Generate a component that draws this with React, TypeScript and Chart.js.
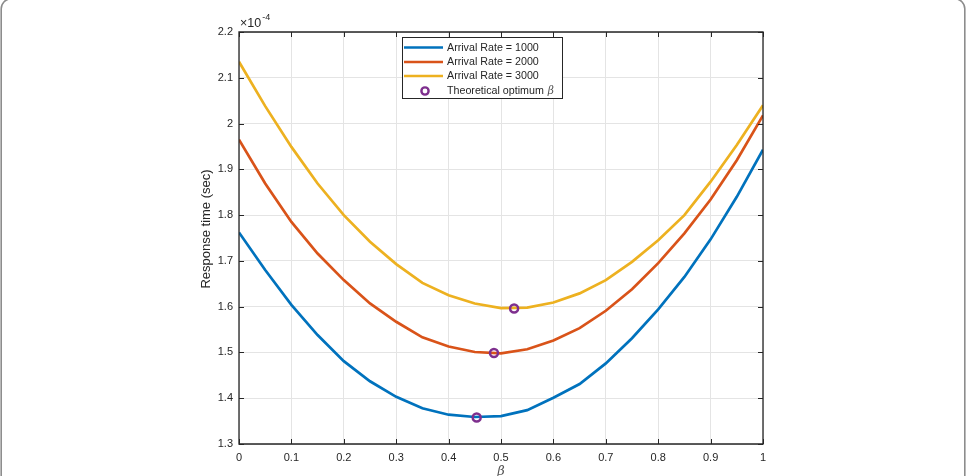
import React, { useEffect, useRef } from "react";
import { Chart, registerables } from "chart.js";

Chart.register(...registerables);

// Sweep of the split parameter beta
const beta = [0, 0.05, 0.1, 0.15, 0.2, 0.25, 0.3, 0.35, 0.4, 0.45, 0.5, 0.55, 0.6, 0.65, 0.7, 0.75, 0.8, 0.85, 0.9, 0.95, 1];

// Mean response time, in units of 1e-4 s
const rate1000 = [1.762, 1.680, 1.604, 1.538, 1.481, 1.437, 1.403, 1.378, 1.364, 1.359, 1.361, 1.374, 1.401, 1.431, 1.476, 1.531, 1.594, 1.665, 1.747, 1.840, 1.943];
const rate2000 = [1.965, 1.869, 1.785, 1.716, 1.658, 1.607, 1.567, 1.533, 1.513, 1.501, 1.498, 1.507, 1.526, 1.553, 1.591, 1.638, 1.695, 1.760, 1.834, 1.920, 2.018];
const rate3000 = [2.135, 2.038, 1.949, 1.869, 1.800, 1.742, 1.693, 1.652, 1.625, 1.607, 1.597, 1.598, 1.609, 1.629, 1.658, 1.698, 1.745, 1.800, 1.873, 1.953, 2.040];

// Analytical optimum for each arrival rate
const optimumBeta = [0.4536, 0.4866, 0.525];
const optimumTime = [1.358, 1.4986, 1.596];

const seriesLabels = ["Arrival Rate = 1000", "Arrival Rate = 2000", "Arrival Rate = 3000"];
const optimumLabel = "Theoretical optimum";
const seriesColors = ["#0072BD", "#D95319", "#EDB120"];
const optimumColor = "#7E2F8E";

const xTicks = [0, 0.1, 0.2, 0.3, 0.4, 0.5, 0.6, 0.7, 0.8, 0.9, 1];
const xTickLabels = ["0", "0.1", "0.2", "0.3", "0.4", "0.5", "0.6", "0.7", "0.8", "0.9", "1"];
const yTicks = [1.3, 1.4, 1.5, 1.6, 1.7, 1.8, 1.9, 2.0, 2.1, 2.2];
const yTickLabels = ["1.3", "1.4", "1.5", "1.6", "1.7", "1.8", "1.9", "2", "2.1", "2.2"];

const yAxisTitle = "Response time (sec)";
const xAxisTitle = "β";
const exponentBase = "×10";
const exponentPower = "-4";

const AXIS_COLOR = "#262626";
const SANS = "'Liberation Sans', Arial, Helvetica, sans-serif";
const SERIF = "'DejaVu Serif', 'Liberation Serif', serif";

// Rounded frame around the figure
const framePlugin = {
  id: "figureFrame",
  beforeDraw(chart: any) {
    const ctx = chart.ctx;
    ctx.save();
    ctx.fillStyle = "#ffffff";
    ctx.fillRect(0, 0, chart.width, chart.height);
    ctx.strokeStyle = "#8c8c8c";
    ctx.lineWidth = 1.6;
    ctx.beginPath();
    (ctx as any).roundRect(1.2, -1.2, 963.6, 500, 10);
    ctx.stroke();
    ctx.restore();
  },
};

// Box axes with inward ticks, axis titles and the exponent label
const boxAxesPlugin = {
  id: "boxAxes",
  afterDatasetsDraw(chart: any) {
    const { ctx, chartArea } = chart;
    const { left, right, top, bottom } = chartArea;
    const xs = chart.scales.x;
    const ys = chart.scales.y;
    const tick = 5;
    ctx.save();
    ctx.strokeStyle = AXIS_COLOR;
    ctx.lineWidth = 1.3;
    ctx.beginPath();
    ctx.rect(left, top, right - left, bottom - top);
    ctx.stroke();
    ctx.lineWidth = 1;
    ctx.beginPath();
    xTicks.forEach((v) => {
      const px = Math.round(xs.getPixelForValue(v)) + 0.5;
      ctx.moveTo(px, bottom);
      ctx.lineTo(px, bottom - tick);
      ctx.moveTo(px, top);
      ctx.lineTo(px, top + tick);
    });
    yTicks.forEach((v) => {
      const py = Math.round(ys.getPixelForValue(v)) + 0.5;
      ctx.moveTo(left, py);
      ctx.lineTo(left + tick, py);
      ctx.moveTo(right, py);
      ctx.lineTo(right - tick, py);
    });
    ctx.stroke();

    // y title
    ctx.fillStyle = AXIS_COLOR;
    ctx.font = `13px ${SANS}`;
    ctx.textAlign = "center";
    ctx.textBaseline = "middle";
    ctx.save();
    ctx.translate(206, 229);
    ctx.rotate(-Math.PI / 2);
    ctx.fillText(yAxisTitle, 0, 0);
    ctx.restore();

    // x title
    ctx.fillStyle = "#555555";
    ctx.font = `italic 13px ${SERIF}`;
    ctx.textAlign = "center";
    ctx.textBaseline = "middle";
    ctx.fillText(xAxisTitle, (left + right) / 2, 472);

    // exponent
    ctx.fillStyle = AXIS_COLOR;
    ctx.textAlign = "left";
    ctx.textBaseline = "alphabetic";
    ctx.font = `12.5px ${SANS}`;
    ctx.fillText(exponentBase, left + 1, top - 5);
    const w = ctx.measureText(exponentBase).width;
    ctx.font = `9px ${SANS}`;
    ctx.fillText(exponentPower, left + 1 + w + 1, top - 12);
    ctx.restore();
  },
};

// Legend box inside the axes, upper middle
const legendPlugin = {
  id: "boxLegend",
  afterDraw(chart: any) {
    const ctx = chart.ctx;
    const bx = 402;
    const by = 37;
    const bw = 160;
    const bh = 61;
    ctx.save();
    ctx.fillStyle = "#ffffff";
    ctx.fillRect(bx, by, bw, bh);
    ctx.strokeStyle = AXIS_COLOR;
    ctx.lineWidth = 1;
    ctx.strokeRect(bx + 0.5, by + 0.5, bw, bh);
    const rowY = [47.5, 62, 76, 91];
    const textX = 447;
    ctx.font = `10.7px ${SANS}`;
    ctx.textBaseline = "middle";
    ctx.textAlign = "left";
    seriesLabels.forEach((label, i) => {
      ctx.strokeStyle = seriesColors[i];
      ctx.lineWidth = 2.6;
      ctx.beginPath();
      ctx.moveTo(404, rowY[i]);
      ctx.lineTo(443, rowY[i]);
      ctx.stroke();
      ctx.fillStyle = AXIS_COLOR;
      ctx.fillText(label, textX, rowY[i] + 0.5);
    });
    ctx.strokeStyle = optimumColor;
    ctx.lineWidth = 2.4;
    ctx.beginPath();
    ctx.arc(425, rowY[3], 3.6, 0, Math.PI * 2);
    ctx.stroke();
    ctx.fillStyle = AXIS_COLOR;
    ctx.fillText(optimumLabel, textX, rowY[3] + 0.5);
    const tw = ctx.measureText(optimumLabel + " ").width;
    ctx.fillStyle = "#555555";
    ctx.font = `italic 10.7px ${SERIF}`;
    ctx.fillText(xAxisTitle, textX + tw + 1, rowY[3] + 0.5);
    ctx.restore();
  },
};

const toPoints = (ys: number[]) => beta.map((b, i) => ({ x: b, y: ys[i] }));

export default function App() {
  const canvasRef = useRef<HTMLCanvasElement | null>(null);

  useEffect(() => {
    const canvas = canvasRef.current;
    if (!canvas) return;
    const seriesValues = [rate1000, rate2000, rate3000];
    const chart = new Chart(canvas, {
      type: "line",
      data: {
        datasets: [
          ...seriesValues.map((vals, i) => ({
            label: seriesLabels[i],
            data: toPoints(vals),
            borderColor: seriesColors[i],
            backgroundColor: seriesColors[i],
            borderWidth: 2.7,
            pointRadius: 0,
            tension: 0,
            fill: false,
            order: 1,
          })),
          {
            label: optimumLabel,
            data: optimumBeta.map((b, i) => ({ x: b, y: optimumTime[i] })),
            showLine: false,
            borderColor: optimumColor,
            backgroundColor: "rgba(0,0,0,0)",
            pointStyle: "circle",
            pointRadius: 4,
            pointBorderWidth: 2.5,
            order: 0,
          },
        ],
      } as any,
      options: {
        responsive: false,
        animation: false,
        events: [],
        layout: { padding: { left: 0, right: 209, top: 32, bottom: 0 } },
        plugins: { legend: { display: false }, tooltip: { enabled: false } },
        scales: {
          x: {
            type: "linear",
            min: 0,
            max: 1,
            afterBuildTicks: (s: any) => {
              s.ticks = xTicks.map((v) => ({ value: v }));
            },
            afterFit: (s: any) => {
              s.height = 32;
            },
            ticks: {
              callback: (_v: any, i: number) => xTickLabels[i],
              color: AXIS_COLOR,
              font: { family: SANS, size: 11 },
              padding: 7,
              maxRotation: 0,
              autoSkip: false,
            },
            grid: { color: "#e4e4e4", lineWidth: 1, drawTicks: false },
            border: { display: false },
          },
          y: {
            type: "linear",
            min: 1.3,
            max: 2.2,
            afterBuildTicks: (s: any) => {
              s.ticks = yTicks.map((v) => ({ value: v }));
            },
            afterFit: (s: any) => {
              s.width = 239;
            },
            ticks: {
              callback: (_v: any, i: number) => yTickLabels[i],
              color: AXIS_COLOR,
              font: { family: SANS, size: 11 },
              padding: 6,
              autoSkip: false,
            },
            grid: { color: "#e4e4e4", lineWidth: 1, drawTicks: false },
            border: { display: false },
          },
        },
      } as any,
      plugins: [framePlugin, boxAxesPlugin, legendPlugin],
    });
    return () => chart.destroy();
  }, []);

  return (
    <div style={{ position: "fixed", left: 0, top: 0, width: 972, height: 476, background: "#ffffff" }}>
      <canvas ref={canvasRef} width={972} height={476} style={{ display: "block", width: 972, height: 476 }} />
    </div>
  );
}
